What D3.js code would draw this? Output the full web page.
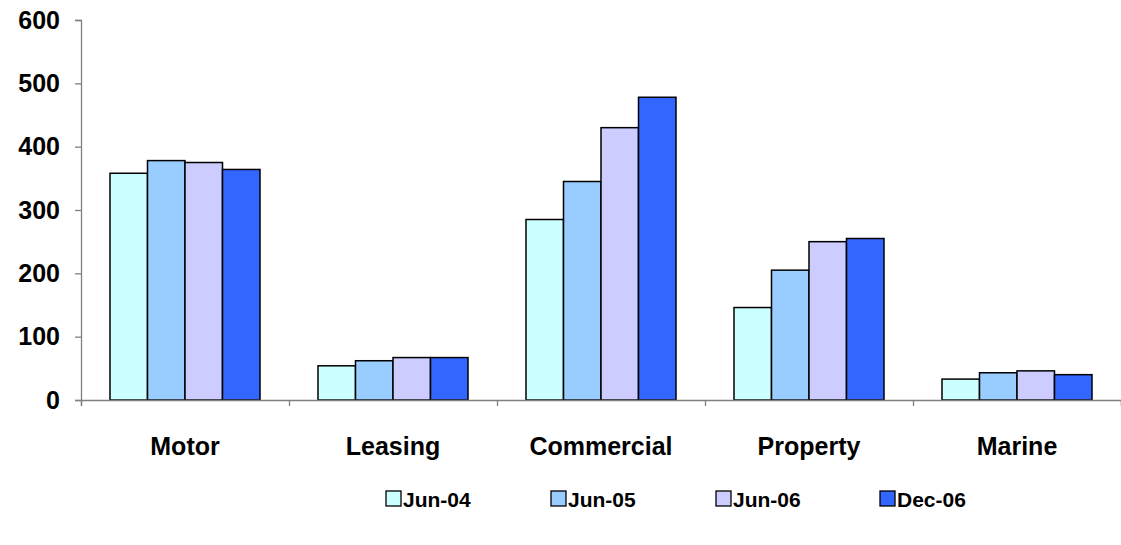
<!DOCTYPE html>
<html><head><meta charset="utf-8">
<script src="https://cdn.jsdelivr.net/npm/d3@7"></script>
<style>body{margin:0;background:#fff;}svg{display:block;font-family:"Liberation Sans",Arial,sans-serif;font-weight:bold;}</style>
</head><body><svg id="c" width="1121" height="545"></svg>
<script>
const categories = ["Motor","Leasing","Commercial","Property","Marine"];
const seriesNames = ["Jun-04","Jun-05","Jun-06","Dec-06"];
const jun04 = [358, 54, 285, 146, 33];
const jun05 = [378, 62, 345, 205, 43];
const jun06 = [375, 67, 430, 250, 46];
const dec06 = [364, 67, 478, 255, 40];
const yTicks = [0,100,200,300,400,500,600];
const colors = ["#CCFFFF","#99CCFF","#CCCCFF","#3366FF"];
const series = [jun04, jun05, jun06, dec06];

(function(){
const svg = d3.select("#c");
const mLeft = 81, mRight = 1121, mTop = 20, mBottom = 400;
const x0 = d3.scaleBand().domain(categories).range([mLeft, mRight]).padding(0);
const x1 = d3.scaleBand().domain(seriesNames).range([29, 179]).padding(0);
const y = d3.scaleLinear().domain([0,600]).range([mBottom, mTop]);

// bars
categories.forEach((c, ci) => {
  const g = svg.append("g").attr("transform", `translate(${x0(c)},0)`);
  seriesNames.forEach((s, si) => {
    const v = series[si][ci];
    g.append("rect")
      .attr("x", x1(s)).attr("y", y(v))
      .attr("width", x1.bandwidth()).attr("height", y(0) - y(v))
      .attr("fill", colors[si]).attr("stroke", "#000").attr("stroke-width", 1.5);
  });
});

// y axis
const yAxis = svg.append("g").attr("transform", `translate(${mLeft},0)`)
  .call(d3.axisLeft(y).tickValues(yTicks).tickSize(6).tickPadding(15));
yAxis.select(".domain").attr("stroke", "#808080").attr("stroke-width", 1.3);
yAxis.selectAll(".tick line").attr("stroke", "#808080").attr("stroke-width", 1.3);
yAxis.selectAll("text").attr("font-size", 25).attr("font-weight", "bold").attr("fill", "#000")
  .attr("font-family", "Liberation Sans, Arial, sans-serif");

// x axis
const xAxisScale = d3.scaleLinear().domain([0, categories.length]).range([mLeft, mRight]);
const xAxis = svg.append("g").attr("transform", `translate(0,${mBottom})`)
  .call(d3.axisBottom(xAxisScale).tickValues(d3.range(categories.length+1)).tickSize(6).tickFormat(""));
xAxis.select(".domain").attr("stroke", "#808080").attr("stroke-width", 1.3);
xAxis.selectAll(".tick line").attr("stroke", "#808080").attr("stroke-width", 1.3);

// category labels
svg.append("g").selectAll("text").data(categories).join("text")
  .attr("x", d => x0(d) + x0.bandwidth()/2).attr("y", 455)
  .attr("text-anchor", "middle").attr("font-size", 25).text(d => d);

// legend
const legendX = [386, 551, 716, 880];
const lg = svg.append("g").selectAll("g").data(seriesNames).join("g")
  .attr("transform", (d,i) => `translate(${legendX[i]},491)`);
lg.append("rect").attr("width", 15).attr("height", 15)
  .attr("fill", (d,i) => colors[i]).attr("stroke", "#000").attr("stroke-width", 1.3);
lg.append("text").attr("x", 17).attr("y", 16).attr("font-size", 21).text(d => d);
})();
</script></body></html>
